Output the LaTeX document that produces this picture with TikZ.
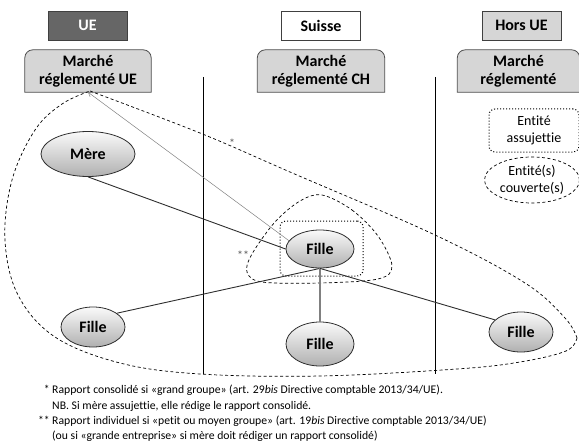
\documentclass[tikz,border=0pt]{standalone}
\usepackage{fontspec}
\setmainfont{Carlito}[Ligatures={NoCommon}]
\usetikzlibrary{shapes.geometric,arrows.meta,backgrounds}
\definecolor{uefill}{HTML}{666666}
\definecolor{boxgray}{HTML}{D6D6D6}
\definecolor{linedark}{HTML}{2E2E2E}
\definecolor{markgray}{HTML}{555555}
\newcommand\mktshape[1]{%
  \draw[mktline] (#1.south west) -- ([yshift=-8pt]#1.north west)
    arc[start angle=180,end angle=90,radius=8pt]
    -- ([xshift=-8pt]#1.north east)
    arc[start angle=90,end angle=0,radius=8pt]
    -- (#1.south east) -- cycle;}
\begin{document}
\begin{tikzpicture}[x=1pt,y=-1pt,
  hdr/.style={draw=black!75, line width=0.8pt, minimum width=79pt, minimum height=29pt,
    font=\fontsize{16}{18}\selectfont\bfseries, inner sep=0pt},
  mkt/.style={minimum height=42pt, inner sep=0pt, align=center,
    font=\fontsize{16}{18}\selectfont\bfseries},
  mktline/.style={draw=black!70, fill=boxgray, line width=0.8pt},
  ent/.style={ellipse, draw=linedark, line width=0.8pt, top color=gray!4, bottom color=gray!62,
    font=\fontsize{16}{18}\selectfont\bfseries, inner sep=0pt},
  link/.style={draw=linedark, line width=0.9pt},
  legtxt/.style={font=\fontsize{14}{17}\selectfont, align=center, inner sep=0pt},
  foot/.style={font=\fontsize{11.7}{14}\selectfont, inner sep=0pt},
  starlbl/.style={font=\fontsize{12}{14}\selectfont, text=markgray, inner sep=0pt},
  sep/.style={draw=black, line width=0.8pt},
  zone/.style={draw=black, dashed, dash pattern=on 3pt off 2.5pt, line width=0.7pt}
]
\useasboundingbox (0,0) rectangle (579,444);

% header boxes
\node[hdr, fill=uefill, text=white] (hUE) at (87.5,25.5) {UE};
\node[hdr, fill=white] (hCH) at (321,25.5) {Suisse};
\node[hdr, fill=boxgray] (hHors) at (521.5,25.5) {Hors UE};

% market boxes
\node[mkt, minimum width=126pt] (mUE) at (88,71) {Marché\\réglementé UE};
\node[mkt, minimum width=127pt] (mCH) at (321,71) {Marché\\réglementé CH};
\node[mkt, minimum width=122pt] (mHors) at (518.5,71) {Marché\\réglementé};
\begin{scope}[on background layer]
\mktshape{mUE}
\mktshape{mCH}
\mktshape{mHors}
\end{scope}

% separators
\coordinate (s1t) at (203,77); \coordinate (s1b) at (203,374);
\coordinate (s2t) at (435,77); \coordinate (s2b) at (435,374);
\draw[sep] (s1t) -- (s1b);
\draw[sep] (s2t) -- (s2b);

% big dashed zone
\draw[zone] plot[smooth, tension=0.6] coordinates {(90,91) (200,133) (290,172) (435,235) (525,283) (565,318) (577,338)};
\draw[zone] plot[smooth, tension=0.6] coordinates {(577,338) (566,351) (520,362) (457,369) (320,376) (200,374) (120,363) (55,337) (18,295) (5,240) (12,180) (35,130) (62,104) (90,91)};

% small dashed zone
\draw[zone] plot[smooth cycle, tension=0.55] coordinates {(322,195) (352,210) (378,236) (392,266) (378,279) (320,283) (262,282) (247,272) (252,254) (275,222) (300,201)};

% dotted box around centre Fille
\node[draw=black, dotted, line width=1pt, rounded corners=6pt, minimum width=83pt, minimum height=55pt] (assbox) at (321.5,248.5) {};

% entities
\node[ent, minimum width=94pt, minimum height=45pt] (mere) at (88,154) {Mère};
\node[ent, minimum width=68pt, minimum height=38pt] (cF) at (320,249) {Fille};
\node[ent, minimum width=64pt, minimum height=40pt] (lF) at (93,327) {Fille};
\node[ent, minimum width=68pt, minimum height=44pt] (bF) at (320,344) {Fille};
\node[ent, minimum width=64pt, minimum height=40pt] (rF) at (521,332) {Fille};

% links
\draw[link] (mere.south) -- (cF.west);
\draw[draw=gray, line width=0.5pt, -{Straight Barb[length=4pt,width=5pt]}] (cF.165) -- (mUE.south);
\draw[link] (lF.30) -- (cF.south);
\draw[draw=gray, line width=1.4pt] (cF.south) -- (bF.north);
\draw[link] (cF.south) -- (rF.155);

% star labels
\node[starlbl] (st1) at (232,143) {*};
\node[starlbl] (st2) at (243,255) {**};

% legend
\node[legtxt, draw=black, dotted, line width=1pt, rounded corners=6pt, minimum width=90pt, minimum height=43pt] (leg1) at (534,130.5) {Entité\\assujettie};
\node[legtxt, ellipse, draw=black, dashed, dash pattern=on 3pt off 2.5pt, line width=0.7pt, minimum width=95pt, minimum height=46pt] (leg2) at (532,180) {Entité(s)\\couverte(s)};

% footnotes
\node[foot, anchor=base east] (fm1) at (50,393) {*};
\node[foot, anchor=base west] (f1) at (52,393) {Rapport consolidé si «grand groupe» (art. 29\textit{bis} Directive comptable 2013/34/UE).};
\node[foot, anchor=base west] (f2) at (52,409) {NB. Si mère assujettie, elle rédige le rapport consolidé.};
\node[foot, anchor=base east] (fm2) at (50,424) {**};
\node[foot, anchor=base west] (f3) at (52,424) {Rapport individuel si «petit ou moyen groupe» (art. 19\textit{bis} Directive comptable 2013/34/UE)};
\node[foot, anchor=base west] (f4) at (52,439) {(ou si «grande entreprise» si mère doit rédiger un rapport consolidé)};
\end{tikzpicture}
\end{document}
